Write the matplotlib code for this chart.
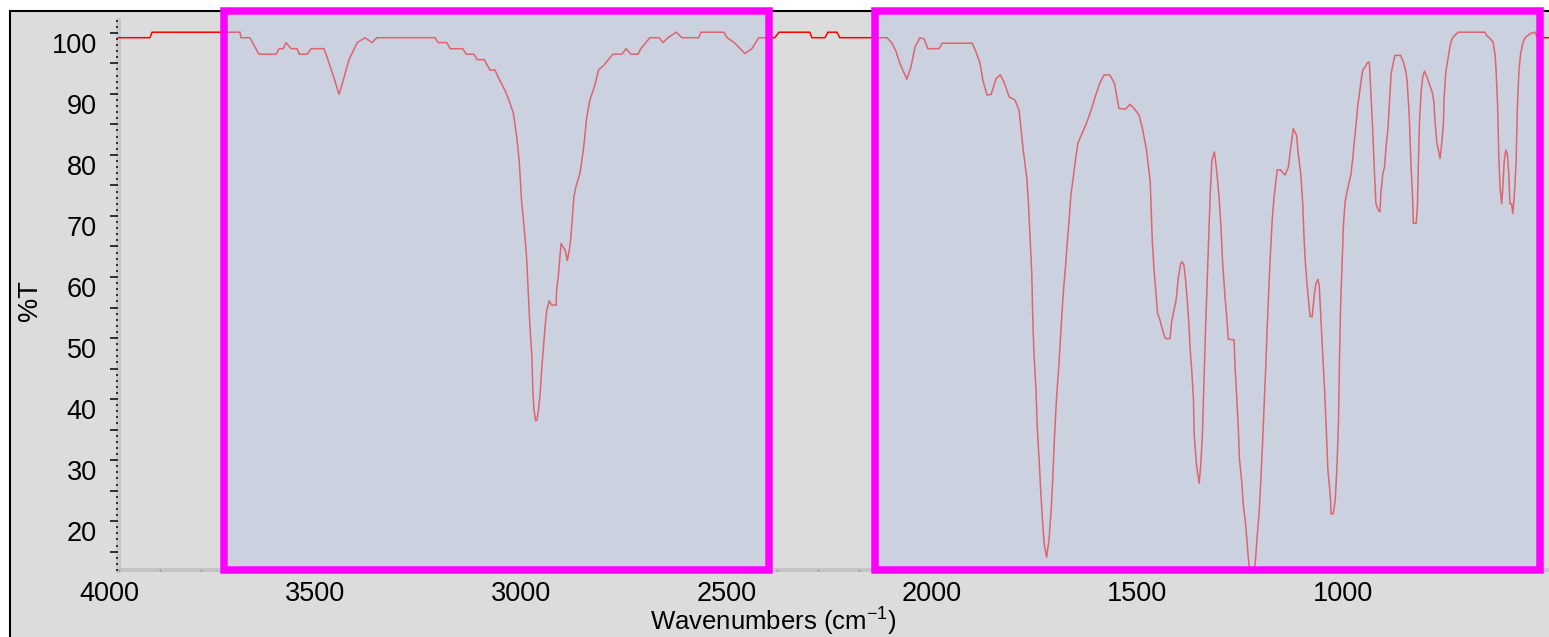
import matplotlib
matplotlib.use("Agg")
import matplotlib.pyplot as plt
import matplotlib.transforms as mtransforms
from matplotlib.patches import Rectangle
from matplotlib.ticker import MultipleLocator, FuncFormatter

plt.rcParams['font.family'] = ['Liberation Sans', 'DejaVu Sans']
plt.rcParams['mathtext.fontset'] = 'custom'
plt.rcParams['mathtext.rm'] = 'Liberation Sans'
plt.rcParams['mathtext.default'] = 'regular'

# IR spectrum (wavenumber in cm-1, %T)
wavenumber = [
    3979, 3902, 3897, 3683, 3681, 3659, 3637, 3595, 3588, 3578,
    3571, 3559, 3544, 3539, 3520, 3510, 3479, 3471, 3454, 3442,
    3432, 3418, 3398, 3379, 3362, 3350, 3209, 3201, 3180, 3172,
    3141, 3133, 3114, 3106, 3089, 3075, 3063, 3051, 3038, 3029,
    3018, 3010, 3004, 2998, 2992, 2986, 2982, 2978, 2973, 2971,
    2968, 2964, 2961, 2957, 2953, 2949, 2945, 2941, 2937, 2931,
    2925, 2914, 2913, 2909, 2902, 2897, 2892, 2887, 2882, 2879,
    2875, 2871, 2866, 2856, 2852, 2848, 2844, 2840, 2832, 2820,
    2811, 2798, 2776, 2754, 2744, 2732, 2715, 2708, 2686, 2664,
    2654, 2642, 2622, 2608, 2567, 2562, 2506, 2498, 2481, 2455,
    2438, 2421, 2382, 2372, 2297, 2292, 2260, 2253, 2231, 2224,
    2109, 2097, 2087, 2078, 2061, 2051, 2041, 2029, 2019, 2010,
    1983, 1975, 1902, 1893, 1883, 1876, 1866, 1856, 1844, 1834,
    1825, 1812, 1798, 1788, 1778, 1769, 1765, 1761, 1757, 1755,
    1752, 1747, 1744, 1739, 1735, 1731, 1727, 1721, 1715, 1710,
    1706, 1702, 1697, 1692, 1688, 1684, 1680, 1675, 1671, 1666,
    1662, 1656, 1652, 1645, 1635, 1624, 1613, 1603, 1592, 1581,
    1567, 1556, 1545, 1529, 1518, 1508, 1496, 1487, 1478, 1469,
    1464, 1460, 1456, 1451, 1445, 1441, 1435, 1431, 1421, 1417,
    1413, 1406, 1401, 1395, 1391, 1387, 1383, 1379, 1375, 1372,
    1368, 1364, 1362, 1356, 1350, 1346, 1342, 1338, 1334, 1330,
    1326, 1323, 1319, 1313, 1307, 1301, 1297, 1293, 1287, 1283,
    1279, 1265, 1263, 1259, 1255, 1252, 1246, 1243, 1238, 1234,
    1230, 1226, 1217, 1213, 1209, 1204, 1200, 1196, 1192, 1188,
    1184, 1180, 1176, 1172, 1168, 1164, 1160, 1153, 1148, 1141,
    1133, 1127, 1121, 1113, 1109, 1103, 1098, 1095, 1092, 1087,
    1084, 1080, 1075, 1070, 1066, 1061, 1058, 1054, 1050, 1045,
    1041, 1037, 1031, 1029, 1024, 1019, 1015, 1011, 1009, 1006,
    1002, 999, 995, 991, 987, 981, 976, 973, 968, 964,
    960, 957, 952, 946, 941, 936, 932, 928, 924, 920,
    914, 910, 908, 903, 899, 895, 891, 887, 883, 878,
    874, 860, 853, 847, 844, 839, 835, 831, 829, 822,
    819, 817, 814, 810, 806, 802, 798, 792, 788, 783,
    779, 776, 772, 768, 764, 760, 756, 754, 750, 744,
    740, 736, 732, 720, 655, 651, 643, 635, 630, 628,
    624, 621, 618, 614, 612, 608, 604, 600, 597, 594,
    590, 587, 583, 579, 576, 572, 568, 562, 557, 544,
    532, 528, 490,
]
transmittance = [
    99.2, 99.2, 100.1, 100.1, 99.2, 99.2, 96.5, 96.5, 97.4, 97.4,
    98.4, 97.4, 97.4, 96.5, 96.5, 97.4, 97.4, 96.0, 92.5, 89.9,
    92.2, 95.6, 98.4, 99.2, 98.4, 99.2, 99.2, 98.4, 98.4, 97.4,
    97.4, 96.5, 96.5, 95.6, 95.6, 93.9, 93.9, 92.2, 90.5, 89.0,
    86.8, 83.0, 79.1, 72.3, 68.2, 63.3, 57.8, 52.1, 46.9, 42.0,
    38.2, 36.5, 36.5, 38.2, 40.9, 45.0, 48.5, 51.8, 54.5, 56.1,
    55.4, 55.4, 57.8, 60.0, 65.5, 64.9, 64.4, 62.7, 64.4, 66.0,
    69.3, 73.1, 74.8, 77.0, 78.9, 80.8, 83.2, 86.0, 89.0, 91.4,
    93.9, 94.7, 96.5, 96.5, 97.4, 96.5, 96.5, 97.4, 99.2, 99.2,
    98.4, 99.2, 100.1, 99.2, 99.2, 100.1, 100.1, 99.2, 98.4, 96.6,
    97.4, 99.2, 99.2, 100.1, 100.1, 99.2, 99.2, 100.1, 100.1, 99.2,
    99.2, 98.3, 96.9, 95.0, 92.4, 94.4, 97.7, 99.2, 99.0, 97.4,
    97.4, 98.3, 98.3, 96.9, 95.0, 92.2, 89.8, 89.9, 92.5, 93.1,
    92.0, 89.5, 89.0, 87.3, 80.8, 76.1, 71.8, 66.0, 60.3, 54.0,
    47.7, 41.7, 35.7, 29.7, 24.5, 20.1, 16.3, 14.1, 17.1, 21.8,
    27.0, 33.5, 40.1, 44.7, 49.3, 53.7, 57.8, 61.7, 65.5, 69.6,
    73.4, 76.4, 78.6, 81.9, 83.5, 85.2, 87.3, 89.5, 91.7, 93.1,
    93.1, 91.7, 87.6, 87.5, 88.3, 87.6, 86.5, 84.0, 80.8, 75.6,
    66.0, 61.4, 58.1, 54.0, 52.9, 51.8, 50.4, 49.9, 49.9, 52.6,
    54.0, 56.2, 59.7, 62.2, 62.5, 61.9, 59.5, 56.2, 52.4, 48.3,
    44.7, 40.1, 34.1, 28.9, 26.2, 29.4, 34.3, 43.1, 52.4, 60.0,
    67.7, 73.7, 79.1, 80.5, 77.2, 72.6, 68.2, 62.5, 56.7, 53.5,
    49.8, 49.7, 45.8, 40.9, 35.7, 30.2, 26.2, 22.9, 20.1, 17.1,
    13.6, 11.0, 11.0, 13.6, 17.4, 21.5, 26.7, 32.4, 38.7, 45.3,
    52.4, 58.9, 64.7, 69.6, 72.9, 75.3, 77.5, 77.6, 77.2, 76.7,
    78.0, 81.3, 84.3, 83.2, 80.2, 77.0, 72.0, 66.6, 62.7, 58.4,
    56.2, 53.5, 53.5, 57.0, 58.9, 59.6, 58.6, 53.5, 48.0, 41.7,
    35.4, 28.6, 24.2, 21.2, 21.2, 23.4, 28.6, 36.3, 45.3, 55.1,
    62.7, 68.5, 72.3, 73.7, 75.0, 76.7, 79.7, 81.9, 85.2, 88.2,
    90.1, 91.7, 93.9, 94.4, 95.1, 95.2, 89.8, 84.3, 77.8, 72.0,
    70.9, 70.7, 73.7, 77.0, 78.0, 81.6, 84.1, 88.7, 93.3, 95.0,
    96.3, 96.3, 95.2, 93.6, 92.0, 86.5, 78.9, 73.4, 68.8, 68.8,
    71.8, 77.8, 85.4, 90.3, 92.8, 93.7, 93.1, 92.0, 91.2, 90.3,
    88.7, 85.2, 82.1, 80.8, 79.4, 81.9, 84.9, 89.5, 93.6, 96.1,
    97.7, 98.8, 99.3, 100.1, 100.1, 99.6, 99.1, 98.5, 96.3, 94.2,
    88.2, 79.4, 74.5, 72.0, 73.9, 78.9, 80.8, 80.0, 77.0, 72.0,
    72.0, 70.4, 73.7, 78.9, 87.6, 93.9, 96.6, 98.5, 99.2, 99.9,
    100.1, 99.2, 99.2,
]
assert len(wavenumber) == len(transmittance)

# highlighted wavenumber ranges (magenta boxes)
highlight_regions = [(3721, 2396), (2139, 521)]

xtick_values = [4000, 3500, 3000, 2500, 2000, 1500, 1000]

W, H = 1549, 637
fig = plt.figure(figsize=(W / 100, H / 100), dpi=100, facecolor='white')

# window frame behind the plot
frame = Rectangle((9.5 / W, -0.1), 1.2, 1.1 - 10.5 / H, transform=fig.transFigure,
                  facecolor='#dcdcdc', edgecolor='black', linewidth=1.5, zorder=-5)
fig.add_artist(frame)

ax = fig.add_axes([109.7 / W, (H - 570) / H, (W - 109.7) / W, 550 / H])
ax.set_facecolor('none')
ax.set_xlim(4000, 499)
ax.set_ylim(12, 102.1)

ax.plot(wavenumber, transmittance, color='#ff0000', linewidth=1.1, zorder=2)

# boxes: data x, axes y, drawn over the trace
trans = mtransforms.blended_transform_factory(ax.transData, ax.transAxes)
for start, end in highlight_regions:
    ax.add_patch(Rectangle((start, 0), end - start, 1.0167, transform=trans,
                           facecolor=(188 / 255, 200 / 255, 224 / 255, 0.5),
                           edgecolor='#ff00ff', linewidth=5.4, joinstyle='miter',
                           clip_on=False, zorder=3))

# spines like the OMNIC window
for side in ['top', 'right']:
    ax.spines[side].set_visible(False)
ax.spines['left'].set_position(('data', 3981))
ax.spines['left'].set_color('#c8c8c8')
ax.spines['left'].set_linewidth(3.6)
ax.spines['left'].set_zorder(1)
ax.spines['bottom'].set_color('#c4c4c4')
ax.spines['bottom'].set_linewidth(2.9)
ax.spines['bottom'].set_bounds(499, 3981)
ax.spines['bottom'].set_zorder(1)

ax.set_xticks(xtick_values)
ax.set_xticklabels([str(v) for v in xtick_values])
ax.xaxis.set_minor_locator(MultipleLocator(100, offset=78))
ax.tick_params(axis='x', which='major', length=0, pad=7.8, labelsize=19.5)
ax.tick_params(axis='x', which='minor', length=1.5, width=1, direction='inout', color='#909090')

ax.yaxis.set_major_locator(MultipleLocator(5))
ax.yaxis.set_major_formatter(FuncFormatter(lambda v, p: f'{int(round(v))}' if round(v) % 10 == 0 else ''))
ax.yaxis.set_minor_locator(MultipleLocator(1))
ax.tick_params(axis='y', which='major', length=5.8, width=1.1, pad=9.2, labelsize=19.5, color='black')
ax.tick_params(axis='y', which='minor', length=1.8, width=1.1, color='black')
for lbl in ax.get_yticklabels():
    lbl.set_verticalalignment('top')

fig.text(30.5 / W, (H - 301) / H, '%T', rotation=90, ha='center', va='center', fontsize=19.5)
fig.text(773 / W, (H - 630.5) / H, 'Wavenumbers (cm$^{-1}$)', ha='center', va='baseline', fontsize=18.5)

fig.savefig('out.png', dpi=100, facecolor='white')
